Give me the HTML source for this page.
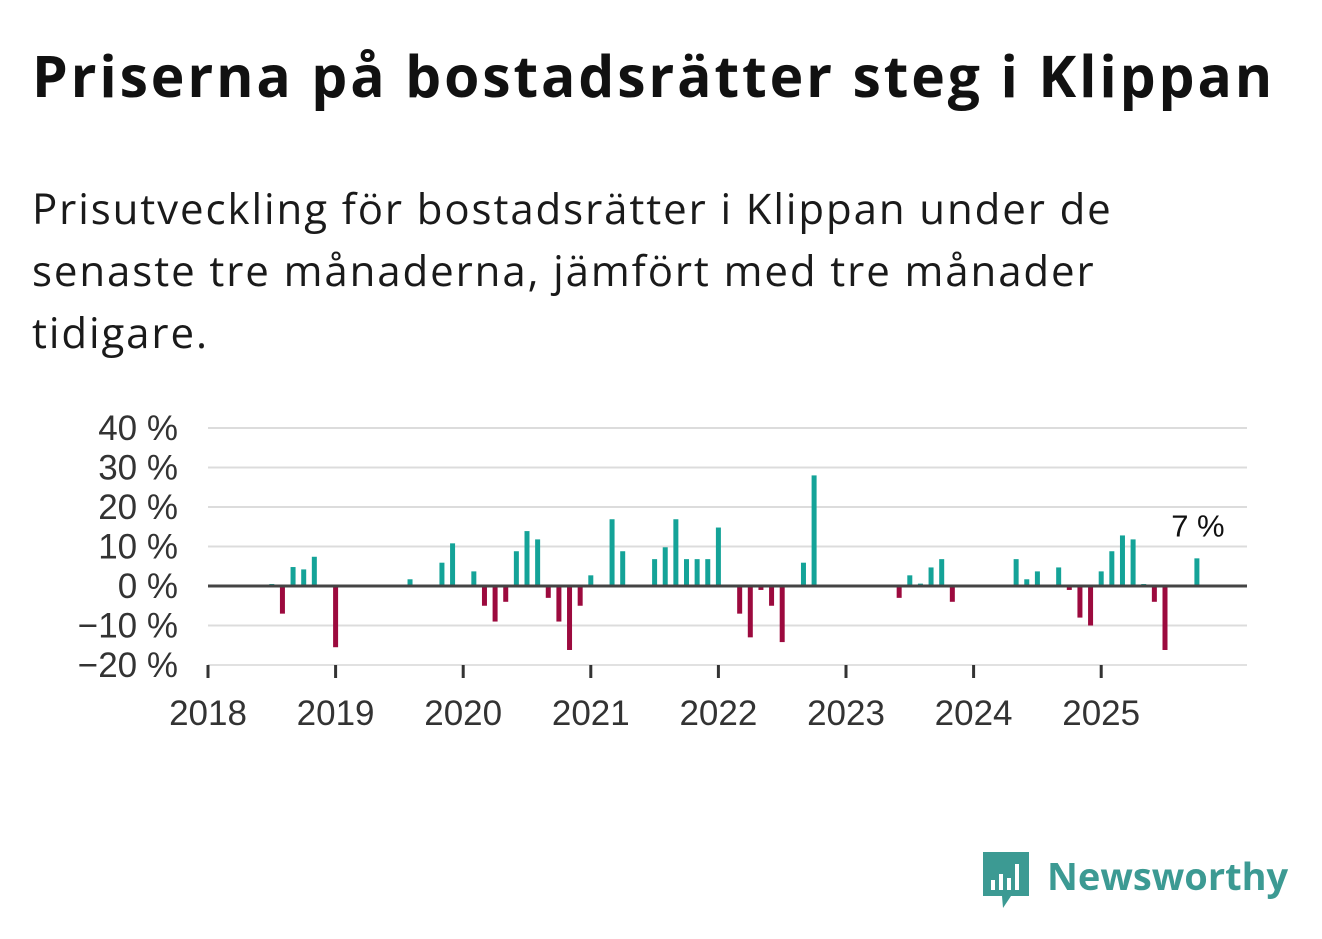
<!DOCTYPE html>
<html><head><meta charset="utf-8"><style>
body{margin:0;width:1322px;height:939px;background:#fff;font-family:"Open Sans","Liberation Sans","DejaVu Sans",sans-serif;overflow:hidden;position:relative}
h1{position:absolute;left:32px;top:36px;margin:0;font-size:57px;font-weight:bold;color:#111;letter-spacing:2.85px;white-space:nowrap}
.sub{position:absolute;left:32px;top:178px;margin:0;font-size:42px;line-height:62px;color:#1a1a1a;width:1260px;letter-spacing:1.9px}
svg{position:absolute;left:0;top:0}
</style></head><body>
<h1>Priserna på bostadsrätter steg i Klippan</h1>
<p class="sub">Prisutveckling för bostadsrätter i Klippan under de<br>senaste tre månaderna, jämfört med tre månader<br>tidigare.</p>
<svg id="chart" width="1322" height="939"></svg>
<div style="position:absolute;left:981px;top:850px;display:flex;align-items:center">
<svg width="50" height="60" style="position:static"><path d="M2 2h46v44H30l-8 12-1-12H2z" fill="#3c9a93"/><rect x="10" y="30" width="4" height="10" fill="#fff"/><rect x="18" y="24" width="4" height="16" fill="#fff"/><rect x="26" y="28" width="4" height="12" fill="#fff"/><rect x="34" y="14" width="4" height="26" fill="#fff"/></svg>
<span style="font-size:38px;font-weight:bold;color:#3c9a93;margin-left:16px;margin-top:-8px">Newsworthy</span></div>
<script>
const months=[6,7,8,9,10,12,19,22,23,25,26,27,28,29,30,31,32,33,34,35,36,38,39,42,43,44,45,46,47,48,50,51,52,53,54,56,57,65,66,67,68,69,70,76,77,78,80,81,82,83,84,85,86,87,88,89,90,93];
const values=[0.5,-7,4.8,4.2,7.4,-15.5,1.7,5.9,10.8,3.7,-5,-9,-4,8.8,13.9,11.8,-3,-9,-16.2,-5,2.7,16.9,8.8,6.8,9.8,16.9,6.8,6.8,6.8,14.8,-7,-13,-1,-5,-14.2,5.9,28,-3,2.7,0.6,4.7,6.8,-4,6.8,1.7,3.7,4.7,-1,-8,-10,3.7,8.8,12.8,11.8,0.5,-4,-16.2,7];
const yTicks=[40,30,20,10,0,-10,-20];
const yearLabels=[2018,2019,2020,2021,2022,2023,2024,2025];
const lastLabel="7 %";
const svg=document.getElementById('chart');const NS='http://www.w3.org/2000/svg';
const x0=208,x1=1247,pxMonth=127.6/12;
const X=m=>x0+m*pxMonth;
const Y=v=>586-v*3.95;
function mk(t,a){const e=document.createElementNS(NS,t);for(const k in a)e.setAttribute(k,a[k]);svg.appendChild(e);return e;}
yTicks.forEach(v=>{
 if(v!==0){const g=mk('line',{x1:x0,x2:x1,y1:Y(v),y2:Y(v),stroke:'#dcdcdc','stroke-width':2});
 
 }
 const t=mk('text',{x:178,y:Y(v)+12,'text-anchor':'end','font-size':35,fill:'#333','font-family':'Liberation Sans, sans-serif'});
 t.textContent=(v<0?'\u2212'+(-v):v)+' %';
 
 
});
months.forEach((m,i)=>{
 const v=values[i];const r=mk('rect',{x:X(m)-2.5,width:5,y:Math.min(Y(v),Y(0)),height:Math.abs(Y(v)-Y(0)),fill:v>=0?'#14a398':'#9c0a3e'});
 
 
});
const z=mk('line',{x1:x0,x2:x1,y1:Y(0),y2:Y(0),stroke:'#444','stroke-width':3});


const ax=mk('line',{x1:x0,x2:x1,y1:665,y2:665,stroke:'#e6e6e6','stroke-width':1});


yearLabels.forEach((yr,i)=>{
 const x=X(i*12);
 const tk=mk('line',{x1:x,x2:x,y1:665,y2:678,stroke:'#333','stroke-width':3});
 
 
 const t=mk('text',{x:x,y:725,'text-anchor':'middle','font-size':35,fill:'#333','font-family':'Liberation Sans, sans-serif'});
 t.textContent=yr;
 
 
});
const lm=months[months.length-1],lv=values[values.length-1];
const lab=mk('text',{x:X(lm)+1,y:Y(lv)-22,'text-anchor':'middle','font-size':31,fill:'#111','font-family':'Liberation Sans, sans-serif'});
lab.textContent=lastLabel;


</script>
</body></html>
